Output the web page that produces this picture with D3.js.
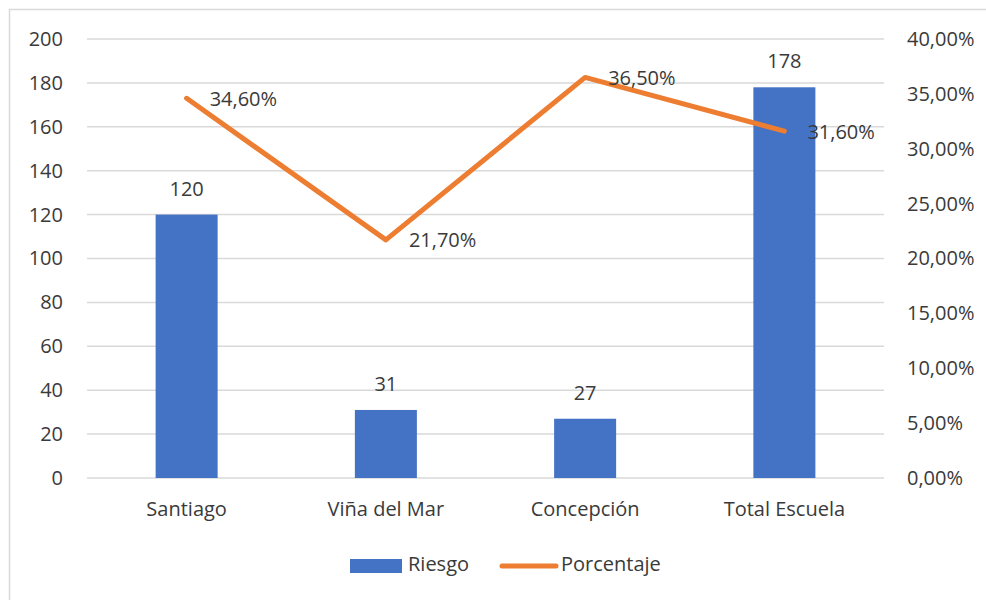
<!DOCTYPE html>
<html><head><meta charset="utf-8">
<script src="https://cdn.jsdelivr.net/npm/d3@7"></script>
<style>body{margin:0;background:#fff}svg{display:block}text{font-family:"Open Sans","Noto Sans",sans-serif;fill:#3a3a3a}</style>
</head><body>
<script>
const categories = ["Santiago","Viña del Mar","Concepción","Total Escuela"];
const riesgo = [120,31,27,178];
const porcentaje = [0.346,0.217,0.365,0.316];
const leftTicks = [0,20,40,60,80,100,120,140,160,180,200];
const rightTicks = [0,0.05,0.10,0.15,0.20,0.25,0.30,0.35,0.40];

const W=986,H=600;
const svg=d3.select("body").append("svg").attr("width",W).attr("height",H);
svg.append("rect").attr("x",9.5).attr("y",9.5).attr("width",W).attr("height",H).attr("fill","#fff").attr("stroke","#d9d9d9").attr("stroke-width",1.5);

const x0=87,x1=884,yTop=39,yBot=478;
const x=d3.scaleBand().domain(categories).range([x0,x1]);
const yL=d3.scaleLinear().domain([0,200]).range([yBot,yTop]);
const yR=d3.scaleLinear().domain([0,0.40]).range([yBot,yTop]);
const fmtPct=v=>d3.format(".2f")(v*100).replace(".",",")+"%";

const fs=20;
const ff='"Open Sans",sans-serif';
svg.append("g").selectAll("line").data(leftTicks).join("line")
 .attr("x1",x0).attr("x2",x1).attr("y1",d=>yL(d)).attr("y2",d=>yL(d))
 .attr("stroke","#d9d9d9").attr("stroke-width",1.5);
const gl=svg.append("g").attr("transform",`translate(${x0},0)`).call(d3.axisLeft(yL).tickValues(leftTicks).tickSize(0).tickPadding(24));
gl.select(".domain").remove();
gl.selectAll("text").style("font-size",fs+"px").attr("fill","#3a3a3a").style("font-family",ff);
const gr=svg.append("g").attr("transform",`translate(${x1},0)`).call(d3.axisRight(yR).tickValues(rightTicks).tickFormat(fmtPct).tickSize(0).tickPadding(23));
gr.select(".domain").remove();
gr.selectAll("text").style("font-size",fs+"px").attr("fill","#3a3a3a").style("font-family",ff);
const gx=svg.append("g").attr("transform",`translate(0,${yBot})`).call(d3.axisBottom(x).tickSize(0).tickPadding(24));
gx.select(".domain").remove();
gx.selectAll("text").style("font-size",fs+"px").attr("fill","#3a3a3a").style("font-family",ff);

const bw=62;
svg.append("g").selectAll("rect").data(categories).join("rect")
 .attr("x",d=>x(d)+x.bandwidth()/2-bw/2).attr("width",bw)
 .attr("y",(d,i)=>yL(riesgo[i])).attr("height",(d,i)=>yBot-yL(riesgo[i]))
 .attr("fill","#4472c4");
svg.append("g").selectAll("text").data(categories).join("text")
 .attr("x",d=>x(d)+x.bandwidth()/2).attr("y",(d,i)=>yL(riesgo[i])-19)
 .attr("text-anchor","middle").style("font-size",fs+"px").text((d,i)=>riesgo[i]);

const line=d3.line().x(d=>x(d[0])+x.bandwidth()/2).y(d=>yR(d[1]));
svg.append("path").datum(categories.map((c,i)=>[c,porcentaje[i]])).attr("d",line)
 .attr("fill","none").attr("stroke","#ed7d31").attr("stroke-width",5).attr("stroke-linecap","round").attr("stroke-linejoin","round");
svg.append("g").selectAll("text").data(categories).join("text")
 .attr("x",d=>x(d)+x.bandwidth()/2+23).attr("y",(d,i)=>yR(porcentaje[i])+2)
 .attr("dominant-baseline","middle").style("font-size",fs+"px").text((d,i)=>fmtPct(porcentaje[i]));

const lg=svg.append("g");
lg.append("rect").attr("x",350).attr("y",559).attr("width",52).attr("height",14).attr("fill","#4472c4");
lg.append("text").attr("x",408).attr("y",566).attr("dominant-baseline","middle").style("font-size",fs+"px").text("Riesgo");
lg.append("line").attr("x1",502).attr("x2",556).attr("y1",566).attr("y2",566).attr("stroke","#ed7d31").attr("stroke-width",5).attr("stroke-linecap","round");
lg.append("text").attr("x",561).attr("y",566).attr("dominant-baseline","middle").style("font-size",fs+"px").text("Porcentaje");
</script>
</body></html>
